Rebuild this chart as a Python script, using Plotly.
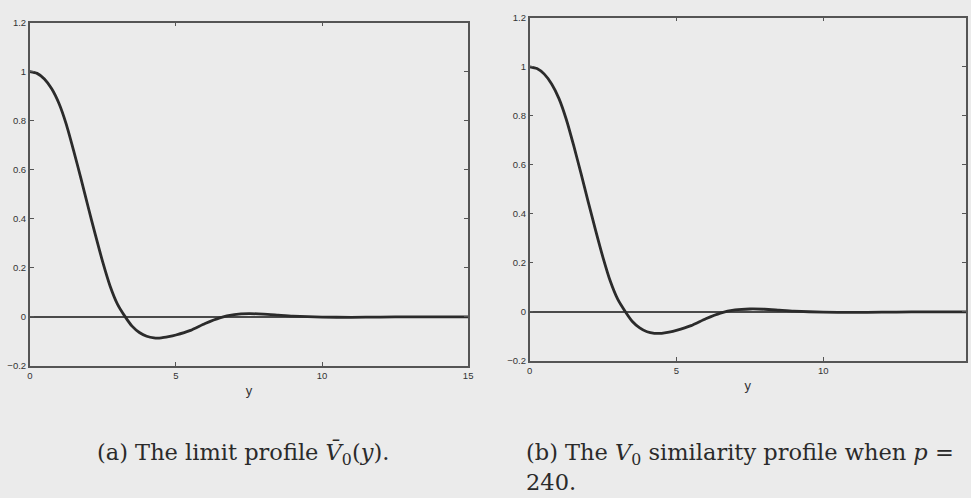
import plotly.graph_objects as go

# ---- data ----
y_a = [0, 0.25, 0.5, 0.75, 1.0, 1.25, 1.5, 1.75, 2.0, 2.25, 2.5, 2.75, 3.0, 3.25,
       3.5, 3.75, 4.0, 4.25, 4.5, 4.75, 5.0, 5.5, 6.0, 6.5, 7.0, 7.5, 8.0, 8.5,
       9.0, 10, 11, 12, 13, 14, 15]
V0_bar = [1.0, 0.993, 0.97, 0.93, 0.87, 0.785, 0.678, 0.565, 0.447, 0.332, 0.222,
          0.125, 0.052, 0.003, -0.038, -0.064, -0.079, -0.086, -0.086, -0.081, -0.074,
          -0.055, -0.027, -0.004, 0.009, 0.013, 0.011, 0.007, 0.003, -0.001,
          -0.002, -0.001, 0.0, 0.0, 0.0]

y_b = [0, 0.25, 0.5, 0.75, 1.0, 1.25, 1.5, 1.75, 2.0, 2.25, 2.5, 2.75, 3.0, 3.25,
       3.5, 3.75, 4.0, 4.25, 4.5, 4.75, 5.0, 5.5, 6.0, 6.5, 7.0, 7.5, 8.0, 8.5,
       9.0, 10, 11, 12, 13, 14, 15]
V0_p240 = [1.0, 0.993, 0.97, 0.93, 0.87, 0.785, 0.679, 0.565, 0.447, 0.332, 0.222,
           0.125, 0.052, 0.003, -0.039, -0.065, -0.081, -0.087, -0.087, -0.082, -0.075,
           -0.056, -0.028, -0.005, 0.008, 0.012, 0.011, 0.007, 0.003, -0.001,
           -0.002, -0.001, 0.0, 0.0, 0.0]

x_ticks = [0, 5, 10, 15]
y_ticks = [-0.2, 0, 0.2, 0.4, 0.6, 0.8, 1.0, 1.2]
x_title = "y"
caption_a = "(a) The limit profile <i>V\u0304</i><sub>0</sub>(<i>y</i>)."
caption_b1 = "(b) The <i>V</i><sub>0</sub> similarity profile when <i>p</i> ="
caption_b2 = "240."

# ---- style ----
BG = "#ebebeb"
AX = "#555555"
CURVE = "#2b2b2b"
W, H = 971, 498

fig = go.Figure()
fig.add_trace(go.Scatter(x=y_a, y=V0_bar, mode="lines",
                         line=dict(color=CURVE, width=2.8, shape="spline", smoothing=0.6),
                         xaxis="x", yaxis="y", showlegend=False))
fig.add_trace(go.Scatter(x=y_b, y=V0_p240, mode="lines",
                         line=dict(color=CURVE, width=2.8, shape="spline", smoothing=0.6),
                         xaxis="x2", yaxis="y2", showlegend=False))

tickfont = dict(family="Liberation Sans, Arial, sans-serif", size=9.5, color="#333333")
common_x = dict(showline=True, linecolor=AX, linewidth=1.5, mirror="ticks", ticks="inside",
                ticklen=4, tickcolor=AX, tickvals=x_ticks, showgrid=False, zeroline=False,
                tickfont=tickfont,
                title=dict(text=x_title,
                           font=dict(family="Liberation Sans, Arial, sans-serif", size=13, color="#333333"),
                           standoff=6))
common_y = dict(showline=True, linecolor=AX, linewidth=1.5, mirror="ticks", ticks="inside",
                ticklen=4, tickcolor=AX, tickvals=y_ticks, showgrid=False, zeroline=True,
                zerolinecolor="#4a4a4a", zerolinewidth=1.6, tickfont=tickfont, range=[-0.2, 1.2])

# right panel is cut off by the page edge: x=15 lies at pixel ~975
right_end = 15 * (W - 531) / (975 - 531)

fig.update_layout(
    width=W, height=H, margin=dict(l=0, r=0, t=0, b=0),
    paper_bgcolor=BG, plot_bgcolor=BG,
    xaxis=dict(domain=[27 / W, 469 / W], range=[0, 15], anchor="y", **common_x),
    yaxis=dict(domain=[1 - 368 / H, 1 - 17 / H], anchor="x", **common_y),
    xaxis2=dict(domain=[531 / W, 1.0], range=[0, right_end], anchor="y2", **common_x),
    yaxis2=dict(domain=[1 - 363 / H, 1 - 12 / H], anchor="x2", **common_y),
)

capfont = dict(family="DejaVu Serif, serif", size=22.5, color="#2a2a2a")
fig.add_annotation(text=caption_a, x=242 / W, y=1 - 458 / H, xref="paper", yref="paper",
                   xanchor="center", yanchor="middle", showarrow=False, font=capfont)
fig.add_annotation(text=caption_b1, x=525 / W, y=1 - 458 / H, xref="paper", yref="paper",
                   xanchor="left", yanchor="middle", showarrow=False, font=capfont)
fig.add_annotation(text=caption_b2, x=525 / W, y=1 - 487 / H, xref="paper", yref="paper",
                   xanchor="left", yanchor="middle", showarrow=False, font=capfont)

fig.write_html("out.html")
